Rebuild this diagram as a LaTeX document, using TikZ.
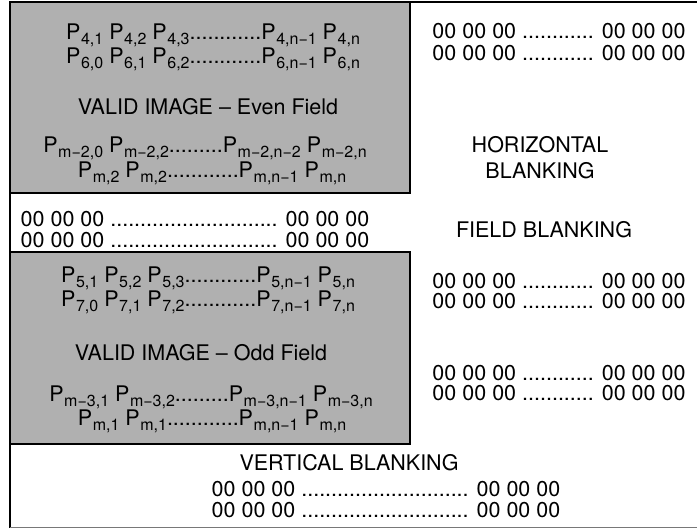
\documentclass[tikz,border=0pt]{standalone}
\usepackage{fontspec}
\setmainfont{TeX Gyre Heros}
\newcommand{\Pq}[1]{P\kern0.6pt\raisebox{-4.5pt}{\fontsize{16}{16}\selectfont #1}}
\definecolor{boxgray}{RGB}{176,176,176}
\definecolor{rulegray}{RGB}{120,120,120}
\begin{document}
\begin{tikzpicture}[x=1pt,y=-1pt,
  txt/.style={font=\fontsize{21.5}{22}\selectfont, inner sep=0pt, anchor=base},
  field/.style={fill=boxgray, draw=black, line width=2pt},
  frame/.style={draw=black, line width=1.6pt}]
\useasboundingbox (0,0) rectangle (697,529);
% outer frame
\draw[frame] (10,2) -- (697,2);
\draw[frame] (10,2) -- (10,528);
\draw[draw=rulegray, line width=1.6pt] (10,527.5) -- (697,527.5);
% fields
\path[field] (10,2) rectangle (410,193);
\path[field] (10,252) rectangle (410,444);
% even field
\node[txt] (e1) at (213,40) {\Pq{4,1} \Pq{4,2} \Pq{4,3}............\Pq{4,n−1} \Pq{4,n}};
\node[txt] (e2) at (213,64) {\Pq{6,0} \Pq{6,1} \Pq{6,2}............\Pq{6,n−1} \Pq{6,n}};
\node[txt] (e3) at (208,115) {VALID IMAGE – Even Field};
\node[txt] (e4) at (205,153) {\Pq{m−2,0} \Pq{m−2,2}.........\Pq{m−2,n−2} \Pq{m−2,n}};
\node[txt] (e5) at (212,178) {\Pq{m,2} \Pq{m,2}............\Pq{m,n−1} \Pq{m,n}};
% horizontal blanking
\node[txt] (h1) at (559,39) {00 00 00 ............ 00 00 00};
\node[txt] (h2) at (559,61) {00 00 00 ............ 00 00 00};
\node[txt] (h3) at (540,153) {HORIZONTAL};
\node[txt] (h4) at (540,179) {BLANKING};
% field blanking
\node[txt] (f1) at (195,227) {00 00 00 ............................ 00 00 00};
\node[txt] (f2) at (195,248) {00 00 00 ............................ 00 00 00};
\node[txt] (f3) at (544,238) {FIELD BLANKING};
% odd field
\node[txt] (o1) at (208,283) {\Pq{5,1} \Pq{5,2} \Pq{5,3}............\Pq{5,n−1} \Pq{5,n}};
\node[txt] (o2) at (208,307) {\Pq{7,0} \Pq{7,1} \Pq{7,2}............\Pq{7,n−1} \Pq{7,n}};
\node[txt] (o3) at (201,361) {VALID IMAGE – Odd Field};
\node[txt] (o4) at (211,402) {\Pq{m−3,1} \Pq{m−3,2}.........\Pq{m−3,n−1} \Pq{m−3,n}};
\node[txt] (o5) at (212,426) {\Pq{m,1} \Pq{m,1}............\Pq{m,n−1} \Pq{m,n}};
\node[txt] (r1) at (559,289) {00 00 00 ............ 00 00 00};
\node[txt] (r2) at (559,309) {00 00 00 ............ 00 00 00};
\node[txt] (r3) at (559,381) {00 00 00 ............ 00 00 00};
\node[txt] (r4) at (559,401) {00 00 00 ............ 00 00 00};
% vertical blanking
\node[txt] (v1) at (349,471) {VERTICAL BLANKING};
\node[txt] (v2) at (386,497) {00 00 00 ............................ 00 00 00};
\node[txt] (v3) at (386,518) {00 00 00 ............................ 00 00 00};
\end{tikzpicture}
\end{document}
